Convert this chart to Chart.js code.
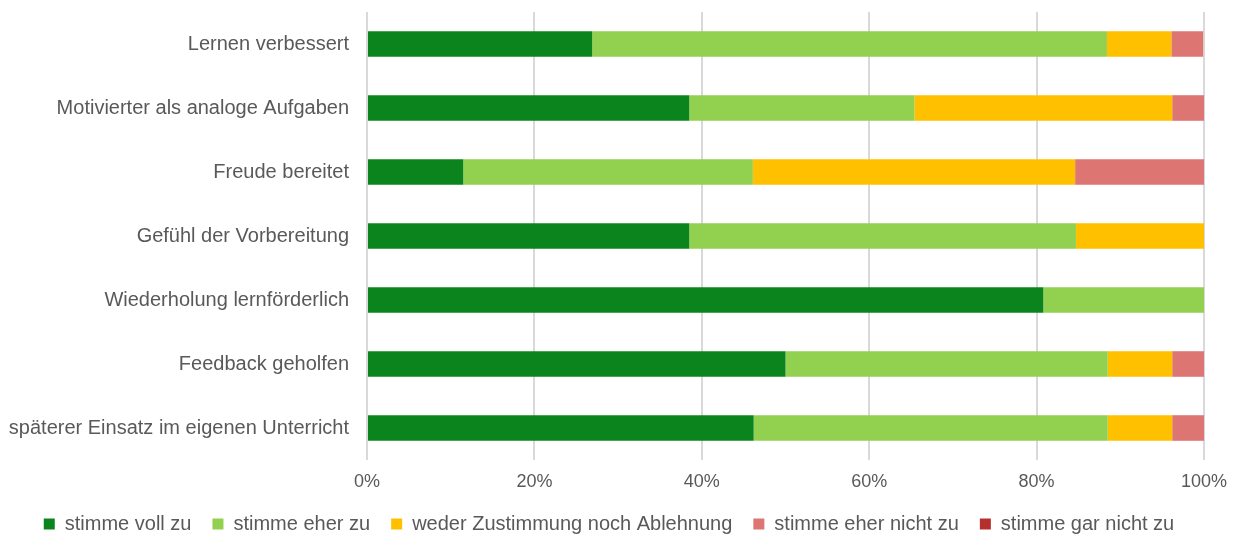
<!DOCTYPE html>
<html>
<head>
<meta charset="utf-8">
<script src="https://cdn.jsdelivr.net/npm/chart.js@4/dist/chart.umd.min.js"></script>
<style>
html,body{margin:0;padding:0;background:#fff;}
#wrap{position:relative;width:1236px;height:534px;}
</style>
</head>
<body>
<div id="wrap"><canvas id="c" width="1236" height="534"></canvas></div>
<script>
const categories = [
  "Lernen verbessert",
  "Motivierter als analoge Aufgaben",
  "Freude bereitet",
  "Gefühl der Vorbereitung",
  "Wiederholung lernförderlich",
  "Feedback geholfen",
  "späterer Einsatz im eigenen Unterricht"
];
const seriesNames = [
  "stimme voll zu",
  "stimme eher zu",
  "weder Zustimmung noch Ablehnung",
  "stimme eher nicht zu",
  "stimme gar nicht zu"
];
const stimmeVollZu      = [26.9, 38.5, 11.5, 38.5, 80.8, 50.0, 46.2];
const stimmeEherZu      = [61.5, 26.9, 34.6, 46.2, 19.2, 38.5, 42.3];
const weder             = [7.7, 30.8, 38.5, 15.3, 0, 7.7, 7.7];
const stimmeEherNichtZu = [3.8, 3.8, 15.4, 0, 0, 3.8, 3.8];
const stimmeGarNichtZu  = [0, 0, 0, 0, 0, 0, 0];
const xTicks = [0, 20, 40, 60, 80, 100];

const colors = ["#0b841d", "#92d050", "#ffc000", "#dd7673", "#b3302d"];
const values = [stimmeVollZu, stimmeEherZu, weder, stimmeEherNichtZu, stimmeGarNichtZu];

const FONT = "'Liberation Sans', Arial, sans-serif";
const TEXT = "#595959";

new Chart(document.getElementById('c'), {
  type: 'bar',
  data: {
    labels: categories,
    datasets: seriesNames.map((n, i) => ({
      label: n,
      data: values[i],
      backgroundColor: colors[i],
      borderWidth: 0,
      categoryPercentage: 0.4,
      barPercentage: 1.0
    }))
  },
  options: {
    indexAxis: 'y',
    responsive: false,
    animation: false,
    devicePixelRatio: 1,
    layout: { padding: { top: 12, right: 18, left: 0, bottom: -10 } },
    scales: {
      x: {
        stacked: true,
        min: 0, max: 100,
        afterBuildTicks: (axis) => { axis.ticks = xTicks.map(v => ({ value: v })); },
        afterFit: (scale) => {
          scale.height = 33;
          scale.paddingRight = 32;
          scale.paddingLeft = 0;
        },
        grid: { color: "#d9d9d9", lineWidth: 2, drawTicks: false },
        border: { display: false },
        ticks: {
          padding: 11,
          color: TEXT,
          font: { family: FONT, size: 18 },
          callback: (v) => v + "%"
        }
      },
      y: {
        stacked: true,
        grid: { display: false, drawTicks: false },
        border: { display: false },
        afterFit: (scale) => {
          scale.width = 367;
          scale.paddingTop = 0;
          scale.paddingBottom = 0;
        },
        ticks: {
          padding: 18,
          color: TEXT,
          font: { family: FONT, size: 20 }
        }
      }
    },
    plugins: {
      tooltip: { enabled: false },
      legend: {
        position: 'bottom',
        labels: {
          boxWidth: 11,
          boxHeight: 11,
          padding: 21,
          color: TEXT,
          font: { family: FONT, size: 20 }
        }
      }
    }
  }
});
</script>
</body>
</html>
